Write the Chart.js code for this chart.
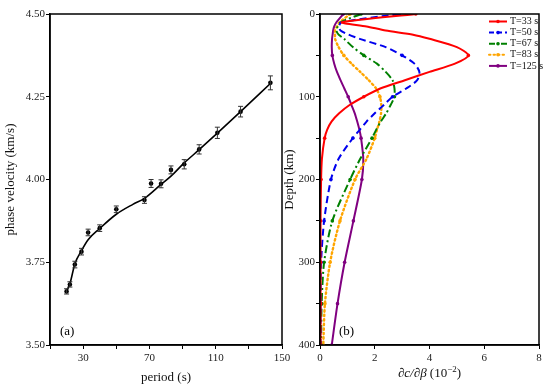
<!DOCTYPE html>
<html>
<head>
<meta charset="utf-8">
<script src="https://cdn.jsdelivr.net/npm/chart.js@4.4.0/dist/chart.umd.min.js"></script>
<style>
  body { margin: 0; background: #fff; }
  #wrap { position: relative; width: 550px; height: 387px; overflow: hidden; }
  canvas { position: absolute; top: 0; }
  #chartA { left: 0; }
  #chartB { left: 270px; }
</style>
</head>
<body>
<div id="wrap">
  <canvas id="chartA" width="300" height="387"></canvas>
  <canvas id="chartB" width="280" height="387"></canvas>
</div>
<script>
// (a) observed phase velocities with error bars, plus the fitted curve
const periods  = [20, 22, 25, 29, 33, 40, 50, 67, 71, 77, 83, 91, 100, 111, 125, 143];
const phaseVel = [3.662, 3.683, 3.743, 3.782, 3.840, 3.853, 3.910, 3.938, 3.988, 3.987, 4.029, 4.046, 4.091, 4.141, 4.205, 4.292];
const velErr   = [0.008, 0.008, 0.010, 0.010, 0.010, 0.010, 0.010, 0.010, 0.012, 0.012, 0.012, 0.014, 0.014, 0.017, 0.016, 0.021];
const fitPeriods = [20, 22, 25, 29, 33, 40, 50, 60, 67, 77, 83, 91, 100, 111, 125, 143];
const fitVel     = [3.663, 3.685, 3.745, 3.785, 3.818, 3.852, 3.895, 3.925, 3.943, 3.985, 4.010, 4.050, 4.090, 4.140, 4.205, 4.290];

// (b) sensitivity kernels dc/dbeta (10^-2) against depth (km)
const depths  = [0, 10, 15, 20, 25, 30, 40, 50, 60, 70, 80, 90, 100, 110, 120, 130, 140, 150, 175, 200, 250, 300, 350, 400];
const sensT33 = [3.5, 0.8, 1.7, 2.4, 3.4, 4.0, 5.0, 5.42, 4.93, 4.0, 3.1, 2.2, 1.6, 1.08, 0.7, 0.42, 0.26, 0.17, 0.07, 0.04, 0.02, 0.02, 0.02, 0.02];
const sensT50 = [2.9, 0.78, 0.7, 0.75, 1.05, 1.45, 2.4, 3.0, 3.45, 3.63, 3.55, 3.15, 2.65, 2.33, 2.0, 1.7, 1.45, 1.2, 0.68, 0.4, 0.15, 0.04, 0.02, 0.02];
const sensT67 = [1.5, 0.75, 0.65, 0.6, 0.68, 0.88, 1.2, 1.6, 2.08, 2.4, 2.65, 2.72, 2.72, 2.58, 2.42, 2.22, 2.05, 1.9, 1.47, 1.1, 0.45, 0.15, 0.06, 0.04];
const sensT83 = [1.1, 0.72, 0.62, 0.55, 0.55, 0.55, 0.68, 0.87, 1.15, 1.47, 1.78, 2.05, 2.19, 2.24, 2.23, 2.17, 2.08, 2.0, 1.7, 1.28, 0.73, 0.37, 0.18, 0.12];
const sensT125 = [0.85, 0.6, 0.52, 0.48, 0.46, 0.44, 0.43, 0.45, 0.52, 0.62, 0.75, 0.89, 1.03, 1.15, 1.27, 1.36, 1.44, 1.5, 1.58, 1.53, 1.22, 0.9, 0.64, 0.43];
const kernelLabels = ['T=33 s', 'T=50 s', 'T=67 s', 'T=83 s', 'T=125 s'];

const SERIF = "'Liberation Serif', 'Times New Roman', serif";
const tickFont = { family: SERIF, size: 11 };
const titleFont = { family: SERIF, size: 13 };

function toXY(xs, ys) {
    return xs.map((x, i) => ({ x: x, y: ys[i] }));
}

// black frame round the plot area
const framePlugin = {
    id: 'frame',
    afterDraw(chart) {
        const a = chart.chartArea, ctx = chart.ctx;
        ctx.save();
        ctx.strokeStyle = '#000';
        ctx.lineWidth = 1.5;
        ctx.strokeRect(a.left, a.top, a.right - a.left, a.bottom - a.top);
        ctx.restore();
    }
};

function panelTag(text, dx) {
    return {
        id: 'tag',
        afterDraw(chart) {
            const a = chart.chartArea, ctx = chart.ctx;
            ctx.save();
            ctx.font = '13px ' + SERIF;
            ctx.fillStyle = '#000';
            ctx.textBaseline = 'middle';
            ctx.fillText(text, a.left + dx, a.bottom - 13);
            ctx.restore();
        }
    };
}

const errorBarPlugin = {
    id: 'errorBars',
    afterDatasetsDraw(chart) {
        const xs = chart.scales.x, ys = chart.scales.y, ctx = chart.ctx;
        ctx.save();
        ctx.strokeStyle = '#333';
        ctx.lineWidth = 1;
        periods.forEach((p, i) => {
            const x = xs.getPixelForValue(p);
            const y1 = ys.getPixelForValue(phaseVel[i] - velErr[i]);
            const y2 = ys.getPixelForValue(phaseVel[i] + velErr[i]);
            ctx.beginPath();
            ctx.moveTo(x, y1); ctx.lineTo(x, y2);
            ctx.moveTo(x - 2.5, y1); ctx.lineTo(x + 2.5, y1);
            ctx.moveTo(x - 2.5, y2); ctx.lineTo(x + 2.5, y2);
            ctx.stroke();
        });
        ctx.restore();
    }
};

function axisCommon() {
    return {
        grid: { display: true, drawOnChartArea: false, drawTicks: true, tickLength: 4, color: '#000' },
        border: { display: true, color: '#000', width: 1.5 },
    };
}

new Chart(document.getElementById('chartA'), {
    type: 'scatter',
    data: {
        datasets: [{
            label: 'fit',
            data: toXY(fitPeriods, fitVel),
            showLine: true,
            borderColor: '#000',
            borderWidth: 1.6,
            pointRadius: 0,
            cubicInterpolationMode: 'monotone'
        }, {
            label: 'observed',
            data: toXY(periods, phaseVel),
            showLine: false,
            pointRadius: 2.3,
            backgroundColor: '#000',
            borderColor: '#000',
            borderWidth: 0
        }]
    },
    options: {
        responsive: false,
        animation: false,
        layout: { padding: { left: 0, right: 18, top: 14, bottom: 0 } },
        plugins: { legend: { display: false }, tooltip: { enabled: false } },
        scales: {
            x: Object.assign(axisCommon(), {
                type: 'linear', min: 10, max: 150,
                afterFit: s => { s.height = 42; },
                ticks: {
                    stepSize: 20, font: tickFont, color: '#222', padding: 3, maxRotation: 0,
                    callback: v => ((v - 30) % 40 === 0 ? v : '')
                },
                title: { display: true, text: 'period (s)', font: titleFont, color: '#111', padding: { top: 0, bottom: 2 } }
            }),
            y: Object.assign(axisCommon(), {
                type: 'linear', min: 3.5, max: 4.5,
                afterFit: s => { s.width = 50; },
                ticks: {
                    stepSize: 0.25, font: tickFont, color: '#222', padding: 1,
                    callback: v => v.toFixed(2)
                },
                title: { display: true, text: 'phase velocity (km/s)', font: titleFont, color: '#111', padding: { top: 3, bottom: 0 } }
            })
        }
    },
    plugins: [errorBarPlugin, framePlugin, panelTag('(a)', 10)]
});

const kernelStyles = [
    { color: '#ff0000', dash: [] },
    { color: '#0000ee', dash: [7, 4] },
    { color: '#008000', dash: [8, 3, 2, 3] },
    { color: '#ffa500', dash: [1.5, 3] },
    { color: '#800080', dash: [] }
];
const kernelSeries = [sensT33, sensT50, sensT67, sensT83, sensT125];

const kernelLegend = {
    id: 'kernelLegend',
    afterDraw(chart) {
        const ctx = chart.ctx;
        ctx.save();
        ctx.font = '10px ' + SERIF;
        ctx.textBaseline = 'middle';
        kernelLabels.forEach((lab, i) => {
            const st = kernelStyles[i];
            const y = 21.5 + i * 11.1;
            const x0 = 219, x1 = 237;
            ctx.strokeStyle = st.color;
            ctx.lineWidth = 2;
            ctx.lineCap = i === 3 ? 'round' : 'butt';
            ctx.setLineDash(i === 1 ? [5, 3] : i === 2 ? [6, 2, 2, 2] : st.dash);
            ctx.beginPath(); ctx.moveTo(x0, y); ctx.lineTo(x1, y); ctx.stroke();
            ctx.setLineDash([]);
            ctx.fillStyle = st.color;
            ctx.beginPath(); ctx.arc((x0 + x1) / 2, y, 1.8, 0, Math.PI * 2); ctx.fill();
            ctx.fillStyle = '#111';
            ctx.fillText(lab, x1 + 3, y);
        });
        ctx.restore();
    }
};

const kernelXTitle = {
    id: 'kernelXTitle',
    afterDraw(chart) {
        const a = chart.chartArea, ctx = chart.ctx;
        const cx = (a.left + a.right) / 2, y = 374;
        ctx.save();
        ctx.fillStyle = '#111';
        ctx.textBaseline = 'middle';
        const partA = '\u2202c/\u2202\u03b2', partB = ' (10', partC = '\u22122', partD = ')';
        const fA = 'italic 13px ' + SERIF, fB = '13px ' + SERIF, fC = '9px ' + SERIF;
        ctx.font = fA; const wA = ctx.measureText(partA).width;
        ctx.font = fB; const wB = ctx.measureText(partB).width, wD = ctx.measureText(partD).width;
        ctx.font = fC; const wC = ctx.measureText(partC).width;
        let x = cx - (wA + wB + wC + wD) / 2;
        ctx.font = fA; ctx.fillText(partA, x, y); x += wA;
        ctx.font = fB; ctx.fillText(partB, x, y); x += wB;
        ctx.font = fC; ctx.fillText(partC, x, y - 4); x += wC;
        ctx.font = fB; ctx.fillText(partD, x, y);
        ctx.restore();
    }
};

new Chart(document.getElementById('chartB'), {
    type: 'scatter',
    data: {
        datasets: kernelSeries.map((vals, i) => ({
            label: kernelLabels[i],
            data: toXY(vals, depths),
            showLine: true,
            borderColor: kernelStyles[i].color,
            backgroundColor: kernelStyles[i].color,
            borderDash: kernelStyles[i].dash,
            borderCapStyle: i === 3 ? 'round' : 'butt',
            borderWidth: i === 3 ? 2.4 : 2,
            tension: 0.25,
            pointRadius: ctx => (depths[ctx.dataIndex] % 50 === 0 ? 1.8 : 0),
            pointBorderWidth: 0
        }))
    },
    options: {
        responsive: false,
        animation: false,
        layout: { padding: { left: 0, right: 11, top: 14, bottom: 0 } },
        plugins: { legend: { display: false }, tooltip: { enabled: false } },
        scales: {
            x: Object.assign(axisCommon(), {
                type: 'linear', min: 0, max: 8,
                afterFit: s => { s.height = 42; },
                ticks: { stepSize: 2, font: tickFont, color: '#222', padding: 3, maxRotation: 0 }
            }),
            y: Object.assign(axisCommon(), {
                type: 'linear', min: 0, max: 400, reverse: true,
                afterFit: s => { s.width = 50; },
                ticks: {
                    stepSize: 50, font: tickFont, color: '#222', padding: 1,
                    callback: v => (v % 100 === 0 ? v : '')
                },
                title: { display: true, text: 'Depth (km)', font: titleFont, color: '#111', padding: { top: 12, bottom: 0 } }
            })
        }
    },
    plugins: [framePlugin, kernelLegend, kernelXTitle, panelTag('(b)', 19)]
});
</script>
</body>
</html>
